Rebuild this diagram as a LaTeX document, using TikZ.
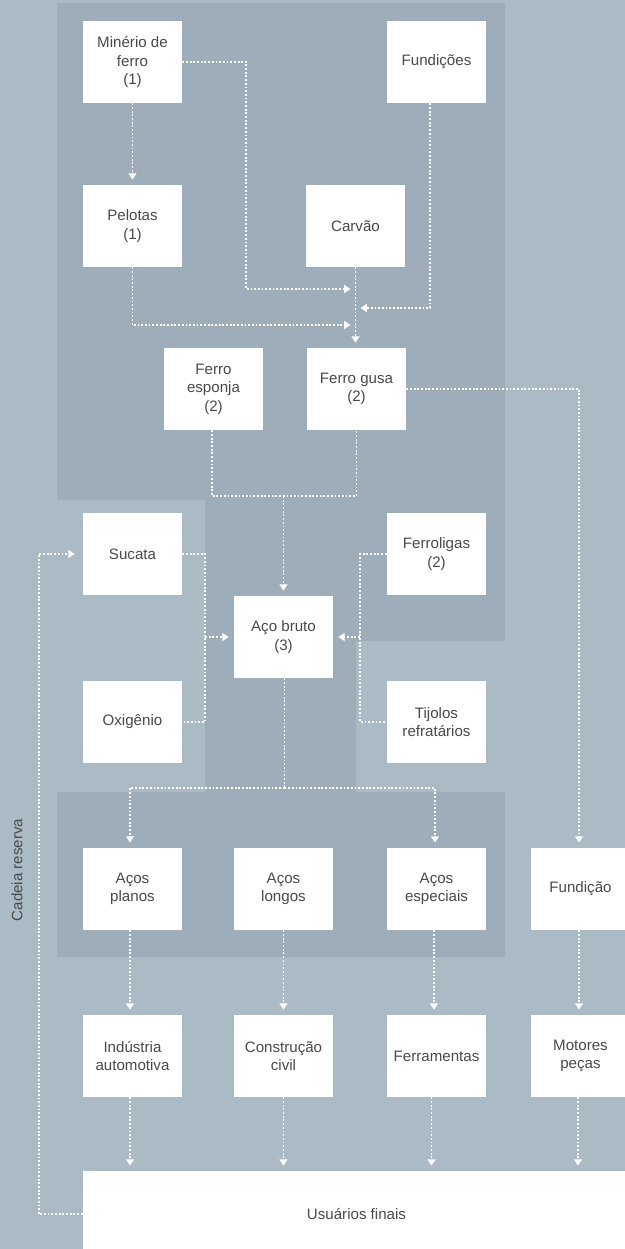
\documentclass[tikz,border=0pt]{standalone}
\usepackage{fontspec}
\setmainfont{Liberation Sans}
\usetikzlibrary{arrows.meta}
\definecolor{bglight}{HTML}{ABBBC6}
\definecolor{bgdark}{HTML}{9DADB9}
\definecolor{txtgray}{HTML}{4A4A4A}
\begin{document}
\begin{tikzpicture}[
  x=0.02cm, y=-0.02cm,
  box/.style={fill=white, inner sep=0pt, align=center, text=txtgray,
    minimum width=1.98cm, minimum height=1.64cm, font=\fontsize{8.6}{10.6}\selectfont},
  link/.style={white, line width=1.1pt, dash pattern=on 1.05pt off 1.05pt},
  arr/.style={link, -{Triangle[length=3.6pt,width=4.5pt]}, shorten >=0.1cm}
]
\useasboundingbox (0,0) rectangle (625,1249);
\clip (0,0) rectangle (625,1249);
\fill[bglight] (0,0) rectangle (625,1249);
\fill[bgdark] (57,3) -- (505,3) -- (505,641) -- (356,641) -- (356,792) -- (505,792)
  -- (505,957) -- (57,957) -- (57,792) -- (205,792) -- (205,500) -- (57,500) -- cycle;

\node[box] (minerio) at (132.5,62) {Minério de\\ferro\\(1)};
\node[box] (fundicoes) at (436.5,62) {Fundições};
\node[box] (pelotas) at (132.5,226) {Pelotas\\(1)};
\node[box] (carvao) at (355.5,226) {Carvão};
\node[box] (esponja) at (213.5,389) {Ferro\\esponja\\(2)};
\node[box] (gusa) at (356.5,389) {Ferro gusa\\(2)};
\node[box] (sucata) at (132.5,554) {Sucata};
\node[box] (ferroligas) at (436.5,554) {Ferroligas\\(2)};
\node[box] (bruto) at (283.5,637) {Aço bruto\\(3)};
\node[box] (oxigenio) at (132.5,722) {Oxigênio};
\node[box] (tijolos) at (436.5,722) {Tijolos\\refratários};
\node[box] (planos) at (132.5,889) {Aços\\planos};
\node[box] (longos) at (283.5,889) {Aços\\longos};
\node[box] (especiais) at (436.5,889) {Aços\\especiais};
\node[box] (fundicao) at (580.5,889) {Fundição};
\node[box] (industria) at (132.5,1056) {Indústria\\automotiva};
\node[box] (construcao) at (283.5,1056) {Construção\\civil};
\node[box] (ferramentas) at (436.5,1056) {Ferramentas};
\node[box] (motores) at (580.5,1056) {Motores\\peças};
\node[box, minimum width=10.94cm, minimum height=1.72cm] (usuarios) at (356.5,1214) {Usuários finais};
\node[rotate=90, text=txtgray, font=\fontsize{8.6}{10.6}\selectfont] (cadeia) at (17,870) {Cadeia reserva};

\coordinate (jtop) at (355.5,289);
\coordinate (jfund) at (355.5,308);
\coordinate (jpel) at (355.5,325);
\coordinate (jmelt) at (283.5,496);
\coordinate (jleft) at (205,637);
\coordinate (jright) at (360,637);
\coordinate (jprod) at (284.5,788);

\draw[arr] (minerio) -- (pelotas);
\draw[arr] (minerio.east) -- ++(64,0) |- (jtop);
\draw[arr] ([xshift=-0.13cm]fundicoes.south) |- (jfund);
\draw[arr] (pelotas.south) |- (jpel);
\draw[arr] (carvao.south) -- (carvao.south |- gusa.north);
\draw[link] ([xshift=-0.03cm]esponja.south) |- (gusa.south |- jmelt) -- (gusa.south);
\draw[arr] (jmelt) -- (bruto);
\draw[arr] (gusa.east) -| ([xshift=-0.03cm]fundicao.north);
\draw[link] (sucata.east) -| (jleft) |- (oxigenio.east);
\draw[arr] (jleft) -- (bruto.west);
\draw[link] (ferroligas.west) -| (jright) |- (tijolos.west);
\draw[arr] (jright) -- (bruto.east);
\draw[link] (bruto.south -| jprod) -- (jprod);
\draw[arr] (jprod) -| ([xshift=-0.05cm]planos.north);
\draw[arr] (jprod) -| ([xshift=-0.03cm]especiais.north);
\draw[arr] ([xshift=-0.05cm]planos.south) -- ([xshift=-0.05cm]industria.north);
\draw[arr] (longos) -- (construcao);
\draw[arr] ([xshift=-0.05cm]especiais.south) -- ([xshift=-0.05cm]ferramentas.north);
\draw[arr] ([xshift=-0.03cm]fundicao.south) -- ([xshift=-0.03cm]motores.north);
\draw[arr] ([xshift=-0.05cm]industria.south) -- ([xshift=-0.05cm]industria.south |- usuarios.north);
\draw[arr] (construcao.south) -- (construcao.south |- usuarios.north);
\draw[arr] ([xshift=-0.1cm]ferramentas.south) -- ([xshift=-0.1cm]ferramentas.south |- usuarios.north);
\draw[arr] ([xshift=-0.05cm]motores.south) -- ([xshift=-0.05cm]motores.south |- usuarios.north);
\draw[arr, shorten >=0.16cm] (usuarios.west) -- ++(-44,0) |- (sucata.west);
\end{tikzpicture}
\end{document}
